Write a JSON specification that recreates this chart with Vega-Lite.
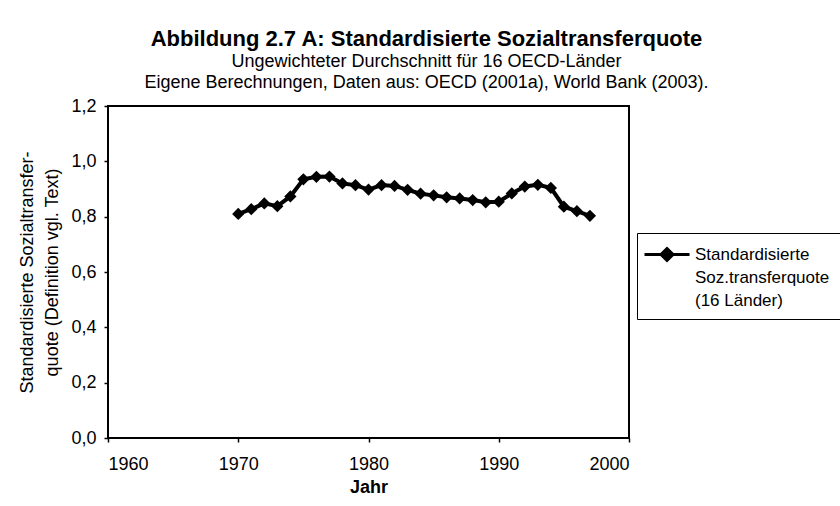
{
  "$schema": "https://vega.github.io/schema/vega-lite/v6.json",
  "width": 521,
  "height": 332,
  "autosize": {"type": "none"},
  "padding": {"left": 108, "top": 106, "right": 211, "bottom": 68},
  "background": "white",
  "config": {
    "font": "Liberation Sans",
    "view": {"stroke": "black", "strokeWidth": 2},
    "style": {
      "guide-label": {"lineHeight": 23},
      "guide-title": {"lineHeight": 25}
    },
    "axis": {"grid": false, "domain": false, "tickColor": "black", "tickSize": 4, "tickWidth": 1.5, "labelColor": "black", "titleColor": "black", "labelFontSize": 18, "titleFontSize": 18, "labelFont": "Liberation Sans", "titleFont": "Liberation Sans", "labelFontWeight": "normal"}
  },
  "title": {
    "text": "Abbildung 2.7 A: Standardisierte Sozialtransferquote",
    "subtitle": ["Ungewichteter Durchschnitt für 16 OECD-Länder", "Eigene Berechnungen, Daten aus: OECD (2001a), World Bank (2003)."],
    "anchor": "middle",
    "frame": "group",
    "dx": 58,
    "fontSize": 22,
    "fontWeight": "bold",
    "font": "Liberation Sans",
    "color": "black",
    "subtitleFont": "Liberation Sans",
    "subtitleFontSize": 18,
    "subtitleColor": "black",
    "subtitleLineHeight": 21,
    "subtitlePadding": 2,
    "offset": 4
  },
  "data": {
    "values": [
      {"Jahr": 1970, "Wert": 0.810, "Reihe": "S"},
      {"Jahr": 1971, "Wert": 0.827, "Reihe": "S"},
      {"Jahr": 1972, "Wert": 0.848, "Reihe": "S"},
      {"Jahr": 1973, "Wert": 0.838, "Reihe": "S"},
      {"Jahr": 1974, "Wert": 0.873, "Reihe": "S"},
      {"Jahr": 1975, "Wert": 0.935, "Reihe": "S"},
      {"Jahr": 1976, "Wert": 0.944, "Reihe": "S"},
      {"Jahr": 1977, "Wert": 0.945, "Reihe": "S"},
      {"Jahr": 1978, "Wert": 0.920, "Reihe": "S"},
      {"Jahr": 1979, "Wert": 0.914, "Reihe": "S"},
      {"Jahr": 1980, "Wert": 0.898, "Reihe": "S"},
      {"Jahr": 1981, "Wert": 0.914, "Reihe": "S"},
      {"Jahr": 1982, "Wert": 0.911, "Reihe": "S"},
      {"Jahr": 1983, "Wert": 0.897, "Reihe": "S"},
      {"Jahr": 1984, "Wert": 0.883, "Reihe": "S"},
      {"Jahr": 1985, "Wert": 0.877, "Reihe": "S"},
      {"Jahr": 1986, "Wert": 0.870, "Reihe": "S"},
      {"Jahr": 1987, "Wert": 0.866, "Reihe": "S"},
      {"Jahr": 1988, "Wert": 0.860, "Reihe": "S"},
      {"Jahr": 1989, "Wert": 0.852, "Reihe": "S"},
      {"Jahr": 1990, "Wert": 0.854, "Reihe": "S"},
      {"Jahr": 1991, "Wert": 0.884, "Reihe": "S"},
      {"Jahr": 1992, "Wert": 0.909, "Reihe": "S"},
      {"Jahr": 1993, "Wert": 0.915, "Reihe": "S"},
      {"Jahr": 1994, "Wert": 0.904, "Reihe": "S"},
      {"Jahr": 1995, "Wert": 0.836, "Reihe": "S"},
      {"Jahr": 1996, "Wert": 0.820, "Reihe": "S"},
      {"Jahr": 1997, "Wert": 0.803, "Reihe": "S"}
    ]
  },
  "mark": {"type": "line", "strokeWidth": 4, "point": {"shape": "diamond", "size": 150, "filled": true, "opacity": 1}},
  "encoding": {
    "x": {
      "field": "Jahr", "type": "quantitative",
      "scale": {"domain": [1960, 2000], "nice": false, "zero": false},
      "axis": {"values": [1960, 1970, 1980, 1990, 2000], "format": "d", "title": "Jahr", "titleFontWeight": "bold", "labelPadding": 13, "titlePadding": 5}
    },
    "y": {
      "field": "Wert", "type": "quantitative",
      "scale": {"domain": [0, 1.2], "nice": false},
      "axis": {"values": [0, 0.2, 0.4, 0.6, 0.8, 1.0, 1.2], "labelExpr": "replace(format(datum.value, '.1f'), '.', ',')", "title": ["Standardisierte Sozialtransfer-", "quote (Definition vgl. Text)"], "titleFontWeight": "normal", "labelPadding": 8, "titlePadding": 9}
    },
    "color": {
      "field": "Reihe", "type": "nominal",
      "scale": {"range": ["black"]},
      "legend": {
        "title": null,
        "orient": "none",
        "legendX": 529,
        "legendY": 127,
        "strokeColor": "black",
        "padding": 10,
        "symbolType": "M-1.4,0H3.1M0.85,-0.6L1.45,0L0.85,0.6L0.25,0Z",
        "symbolSize": 400,
        "symbolStrokeWidth": 3,
        "symbolFillColor": "black",
        "symbolStrokeColor": "black",
        "labelFontSize": 17,
        "labelFont": "Liberation Sans",
        "labelColor": "black",
        "labelBaseline": "middle",
        "labelOffset": 25,
        "labelLimit": 300,
        "labelExpr": "['Standardisierte', 'Soz.transferquote', '(16 Länder)']"
      }
    }
  }
}
